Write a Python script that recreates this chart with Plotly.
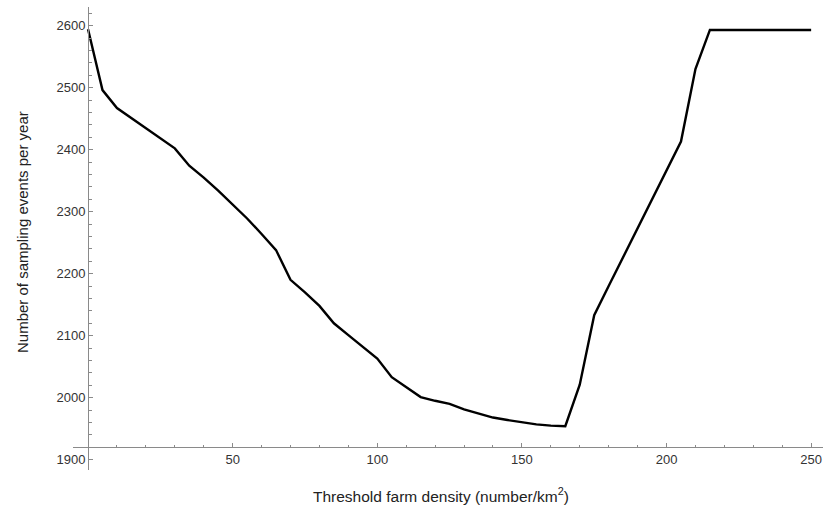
import plotly.graph_objects as go

density = [0, 5, 10, 15, 20, 25, 30, 35, 40, 45, 50, 55, 60, 65, 70, 75, 80, 85, 90, 95,
           100, 105, 110, 115, 120, 125, 130, 135, 140, 145, 150, 155, 160, 165, 170, 175,
           180, 185, 190, 195, 200, 205, 210, 215, 220, 225, 230, 235, 240, 245, 250]
events = [2594, 2496, 2467, 2451, 2435, 2419, 2402, 2374, 2355, 2334, 2311, 2289, 2264, 2238,
          2190, 2170, 2148, 2120, 2101, 2082, 2063, 2033, 2017, 2001, 1995, 1990, 1981, 1975,
          1968, 1964, 1960, 1957, 1955, 1954, 2021, 2133, 2180, 2227, 2273, 2320, 2366, 2413,
          2530, 2593, 2593, 2593, 2593, 2593, 2593, 2593, 2593]

x_ticks = [50, 100, 150, 200, 250]
y_ticks = [1900, 2000, 2100, 2200, 2300, 2400, 2500, 2600]

x_range = [-5.2, 254.1]
y_range = [1883.4, 2630]
x_cross = 1920  # y value where x axis is drawn
y_cross = 0     # x value where y axis is drawn

fig = go.Figure(go.Scatter(x=density, y=events, mode="lines",
                           line=dict(color="black", width=2.4), hoverinfo="skip"))

axis_color = "#8a8a8a"
tick_font = dict(family="Liberation Sans, Arial, sans-serif", size=13, color="#333333")

W, H = 825, 508
ml, mr, mt, mb = 73, 2, 7, 38
pw, ph = W - ml - mr, H - mt - mb

fig.update_layout(
    width=W, height=H,
    margin=dict(l=ml, r=mr, t=mt, b=mb, pad=0),
    paper_bgcolor="white", plot_bgcolor="white",
    showlegend=False,
    xaxis=dict(
        range=x_range, showgrid=False, zeroline=False, automargin=False,
        showline=True, linecolor=axis_color, linewidth=1,
        anchor="free", position=(x_cross - y_range[0]) / (y_range[1] - y_range[0]),
        tickvals=x_ticks, ticks="inside", ticklen=4, tickcolor=axis_color,
        tickfont=tick_font, ticklabeloverflow="allow",
        minor=dict(dtick=10, tick0=0, ticks="inside", ticklen=2.5, tickcolor=axis_color),
    ),
    yaxis=dict(
        range=y_range, showgrid=False, zeroline=False, automargin=False,
        showline=True, linecolor=axis_color, linewidth=1,
        anchor="free", position=(y_cross - x_range[0]) / (x_range[1] - x_range[0]),
        tickvals=y_ticks, ticks="inside", ticklen=4, tickcolor=axis_color,
        tickfont=tick_font, ticklabeloverflow="allow",
        minor=dict(dtick=20, tick0=1900, ticks="inside", ticklen=2.5, tickcolor=axis_color),
    ),
    annotations=[
        dict(text="Threshold farm density (number/km<sup>2</sup>)", xref="paper", yref="paper",
             x=(441 - ml) / pw, y=-(495 - (H - mb)) / ph, showarrow=False,
             xanchor="center", yanchor="middle",
             font=dict(family="Liberation Sans, Arial, sans-serif", size=15.5, color="#222222")),
        dict(text="Number of sampling events per year", xref="paper", yref="paper",
             x=-(ml - 22) / pw, y=((H - mb) - 232) / ph, showarrow=False, textangle=-90,
             xanchor="center", yanchor="middle",
             font=dict(family="Liberation Sans, Arial, sans-serif", size=15, color="#222222")),
    ],
)

fig.write_html("out.html", config={"displayModeBar": False},
               post_script="document.body.style.margin='0';document.body.style.overflow='hidden';")
